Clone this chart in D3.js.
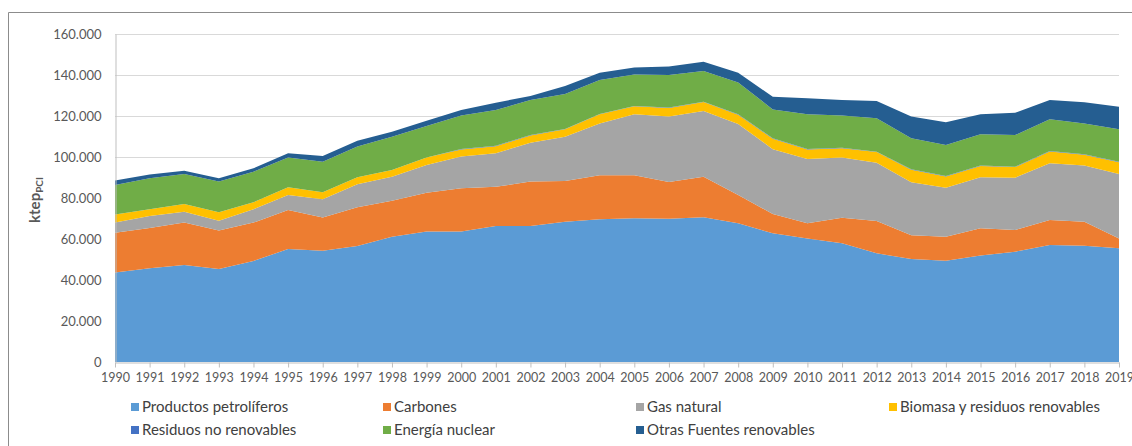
<!DOCTYPE html>
<html>
<head>
<meta charset="utf-8">
<script src="https://d3js.org/d3.v7.min.js"></script>
<style>
  body { margin: 0; background: #fff; }
  text { font-family: Lato, "Open Sans", sans-serif; }
</style>
</head>
<body>
<svg id="chart" width="1132" height="446"></svg>
<script>
// values in ktep (PCI)
var years = d3.range(1990, 2020);
var petroliferos = [43600,45700,47300,45400,49300,55100,54300,56600,61100,63600,63600,66300,66300,68400,69600,70100,69900,70600,67700,62800,60300,57900,53000,50200,49400,51900,53800,57100,56700,55500];
var carbones     = [19500,19700,20700,18700,18700,19000,16200,18900,17600,19000,21100,19200,21700,19900,21500,21000,17900,19800,13800,9400,7400,12500,15800,11600,11700,13300,10600,12200,11700,4800];
var gasNatural   = [4900,5800,5300,4800,6500,7400,8900,11200,11700,13500,15500,16300,19000,21600,25300,29700,31900,32000,34600,31600,31300,29300,28400,25900,23900,24900,25500,27600,27400,31400];
var biomasa      = [4000,3300,3800,4100,3400,3700,3400,3400,3300,3700,3500,3500,3500,3600,4400,3900,4200,4400,4500,5100,4700,4600,5200,6100,5500,5500,5200,5800,5300,5800];
var residuos     = [0,0,0,0,0,0,0,0,0,0,200,200,200,200,200,200,200,200,200,200,200,200,200,200,200,200,200,200,200,200];
var nuclear      = [14300,15100,14600,15000,14900,14600,14900,15000,16200,15300,16300,17400,17100,17000,16600,15400,15900,15000,15600,14100,16900,15700,16300,15100,15200,15300,15400,15500,15100,15800];
var otras        = [2200,1900,1600,1600,1700,2000,2800,2800,2400,2600,2700,3600,2000,3900,3500,3300,4100,4500,4700,6200,7800,7600,8400,10600,11000,9700,10900,9400,10300,11000];

var seriesNames = ["Productos petrolíferos","Carbones","Gas natural","Biomasa y residuos renovables","Residuos no renovables","Energía nuclear","Otras Fuentes renovables"];
var seriesColors = ["#5b9bd5","#ed7d31","#a5a5a5","#ffc000","#4472c4","#70ad47","#255e91"];
var yTicks = [0,20000,40000,60000,80000,100000,120000,140000,160000];

var seriesValues = [petroliferos, carbones, gasNatural, biomasa, residuos, nuclear, otras];
var table = years.map(function(y, i) {
    var row = { year: y };
    seriesNames.forEach(function(n, k) { row[n] = seriesValues[k][i]; });
    return row;
});

var svg = d3.select("#chart");
var x = d3.scaleLinear().domain([1990, 2019]).range([115, 1119]);
var y = d3.scaleLinear().domain([0, 160000]).range([362, 34]);
var es = d3.formatLocale({ decimal: ",", thousands: ".", grouping: [3], currency: ["", "€"] });
var fmt = es.format(",.0f");

// outer border
svg.append("path")
    .attr("d", "M8.5,446 V12.5 H1132")
    .attr("fill", "none").attr("stroke", "#8c8c8c").attr("stroke-width", 1);

// grid
svg.append("g").selectAll("line").data(yTicks.slice(1)).join("line")
    .attr("x1", 115).attr("x2", 1119)
    .attr("y1", function(d) { return Math.round(y(d)) + 0.5; })
    .attr("y2", function(d) { return Math.round(y(d)) + 0.5; })
    .attr("stroke", "#d9d9d9").attr("stroke-width", 1);

var stack = d3.stack().keys(seriesNames);
var layers = stack(table);
var area = d3.area()
    .x(function(d) { return x(d.data.year); })
    .y0(function(d) { return y(d[0]); })
    .y1(function(d) { return y(d[1]); });

svg.append("g").selectAll("path").data(layers).join("path")
    .attr("d", area)
    .attr("fill", function(d, i) { return seriesColors[i]; });

// axes
var xAxis = d3.axisBottom(x).tickValues(years).tickFormat(d3.format("d")).tickSize(5).tickSizeOuter(0);
var gx = svg.append("g").attr("transform", "translate(0,362.5)").call(xAxis);
gx.select(".domain").attr("stroke", "#bfbfbf");
gx.selectAll(".tick line").attr("stroke", "#bfbfbf");
gx.selectAll("text").attr("fill", "#595959").attr("font-size", "12.5px").attr("dy", "0.9em");

var yAxis = d3.axisLeft(y).tickValues(yTicks).tickFormat(fmt).tickSize(0).tickPadding(14);
var gy = svg.append("g").attr("transform", "translate(115.5,0)").call(yAxis);
gy.select(".domain").attr("stroke", "#bfbfbf");
gy.selectAll("text").attr("fill", "#595959").attr("font-size", "13px");

// y label
var yl = svg.append("text")
    .attr("transform", "translate(40,200) rotate(-90)")
    .attr("text-anchor", "middle")
    .attr("fill", "#595959").attr("font-size", "15px").attr("font-weight", "bold");
yl.append("tspan").text("ktep");
yl.append("tspan").attr("font-size", "10px").attr("dy", "3").text("PCI");

// legend
var legX = [131, 383, 636, 889];
var legY = [407, 430];
var leg = svg.append("g").selectAll("g").data(seriesNames).join("g")
    .attr("transform", function(d, i) { return "translate(" + legX[i % 4] + "," + legY[Math.floor(i / 4)] + ")"; });
leg.append("rect").attr("x", 0).attr("y", -4).attr("width", 8).attr("height", 8)
    .attr("fill", function(d, i) { return seriesColors[i]; });
leg.append("text").attr("x", 11).attr("y", 0).attr("dy", "0.35em")
    .attr("fill", "#404040").attr("font-size", "15px")
    .text(function(d) { return d; });
</script>
</body>
</html>
